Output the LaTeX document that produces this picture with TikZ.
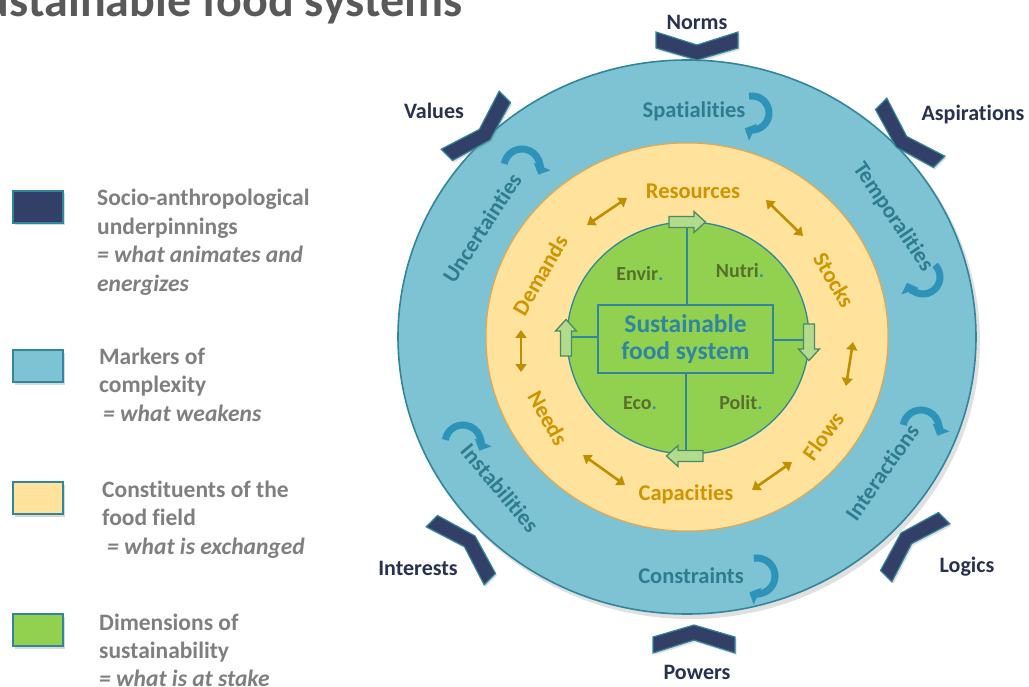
\documentclass[tikz,border=0pt]{standalone}
\usepackage{fontspec}
\setmainfont{Carlito}[Ligatures=NoCommon]
\usetikzlibrary{arrows.meta,shadows,shapes.geometric}
\definecolor{navy}{HTML}{323F66}
\definecolor{tealb}{HTML}{31859C}
\definecolor{ringblue}{HTML}{7EC3D3}
\definecolor{ringyel}{HTML}{FFE29C}
\definecolor{yelborder}{HTML}{F2A33A}
\definecolor{ringgrn}{HTML}{92D050}
\definecolor{gold}{HTML}{BF8F00}
\definecolor{goldtxt}{HTML}{CF9500}
\definecolor{olive}{HTML}{56702C}
\definecolor{legtxt}{HTML}{7F7F7F}
\definecolor{titletxt}{HTML}{595959}
\definecolor{arrowblue}{HTML}{2E93B8}
\definecolor{lblue}{HTML}{2F7C91}
\definecolor{lgreen}{HTML}{B3DB8C}
\definecolor{dgreen}{HTML}{4B8A66}
\definecolor{labtxt}{HTML}{283150}
\definecolor{boxtxt}{HTML}{2F86A0}
\tikzset{
  chev/.pic={\path[fill=navy, draw=tealb, line width=1.2, line join=miter, drop shadow={opacity=0.25,shadow xshift=1.5pt,shadow yshift=-2pt}] (0,0) -- (41,12) -- (41,28) -- (0,15) -- (-41,28) -- (-41,12) -- cycle;},
  garr/.pic={\path[fill=lgreen, draw=dgreen, line width=1.3, line join=miter] (-18,-5.5) -- (7,-5.5) -- (7,-10.5) -- (18.5,0) -- (7,10.5) -- (7,5.5) -- (-18,5.5) -- cycle;}
}
\begin{document}
\begin{tikzpicture}[x=1pt,y=1pt,
  every node/.style={inner sep=0pt},
  chevlbl/.style={font=\fontsize{22}{24}\selectfont\bfseries, text=labtxt},
  ringlbl/.style={font=\fontsize{22.5}{24}\selectfont\bfseries, text=lblue},
  yellbl/.style={font=\fontsize{22.5}{24}\selectfont\bfseries, text=goldtxt},
  grnlbl/.style={font=\fontsize{20}{22}\selectfont\bfseries, text=olive},
  legtext/.style={font=\fontsize{23.5}{28}\selectfont\bfseries, text=legtxt, anchor=base west},
  legit/.style={legtext, font=\fontsize{23.5}{28}\selectfont\bfseries\itshape},
  legbox/.style={draw=tealb, line width=1.5, minimum width=50, minimum height=32, drop shadow={opacity=0.3,shadow xshift=1.5pt,shadow yshift=-2.5pt}},
  dbl/.style={gold, line width=2.6, {Triangle[length=8,width=11]}-{Triangle[length=8,width=11]}},
  carrow/.style={arrowblue, line width=7, -{Triangle[length=9,width=18]}},
  ring/.style={ellipse, inner sep=0pt},
]
\useasboundingbox (0,0) rectangle (1029,-687);
\clip (0,0) rectangle (1029,-687);
\fill[white] (0,0) rectangle (1029,-687);

% title
\node[anchor=base west, font=\fontsize{48}{50}\selectfont\bfseries, text=titletxt] (title) at (-39,-16.5) {Sustainable food systems};

% legend
\node[legbox, fill=navy] (lb1) at (38,-207) {};
\node[legbox, fill=ringblue] (lb2) at (38,-366) {};
\node[legbox, fill=ringyel] (lb3) at (38,-498) {};
\node[legbox, fill=ringgrn] (lb4) at (38,-630) {};
\node[legtext] (t11) at (97,-206) {Socio-anthropological};
\node[legtext] (t12) at (97,-234.5) {underpinnings};
\node[legit] (t13) at (97,-263) {= what animates and};
\node[legit] (t14) at (97,-291.5) {energizes};
\node[legtext] (t21) at (99,-364) {Markers of};
\node[legtext] (t22) at (99,-392.5) {complexity};
\node[legit] (t23) at (103,-421) {= what weakens};
\node[legtext] (t31) at (102,-497) {Constituents of the};
\node[legtext] (t32) at (102,-525.5) {food field};
\node[legit] (t33) at (107,-554) {= what is exchanged};
\node[legtext] (t41) at (99,-630) {Dimensions of};
\node[legtext] (t42) at (99,-658.5) {sustainability};
\node[legit] (t43) at (99,-686.5) {= what is at stake};

% rings
\fill[black, opacity=0.12] (690,-341) ellipse [x radius=290, y radius=278];
\node[ring, draw=tealb, line width=1.6, fill=ringblue, minimum width=578, minimum height=554] (outer) at (687,-337) {};
\node[ring, draw=yelborder, line width=1, fill=ringyel, minimum width=402, minimum height=388] (middle) at (687,-337) {};
\node[ring, draw=tealb, line width=1.3, fill=ringgrn, minimum width=242, minimum height=232] (inner) at (688,-338) {};

% center box and cross
\node[draw=tealb, line width=2, fill=ringgrn, minimum width=175, minimum height=68, align=center, text=boxtxt, font=\fontsize{25.5}{27}\selectfont\bfseries] (box) at (685.5,-339) {Sustainable\\food system};
\coordinate (ct) at (687,-228);
\coordinate (cb) at (686,-451);
\coordinate (cl) at (571,-337);
\coordinate (cr) at (804,-340);
\draw[tealb, line width=2] (box.north -| ct) -- (ct);
\draw[tealb, line width=2] (box.south -| cb) -- (cb);
\draw[tealb, line width=2] (box.west |- cl) -- (cl);
\draw[tealb, line width=2] (box.east |- cr) -- (cr);
\pic at (687,-222) {garr};
\pic[rotate=180] at (685,-456) {garr};
\pic[rotate=90] at (566,-338) {garr};
\pic[rotate=-90] at (809,-342) {garr};

% green labels
\node[grnlbl] (envir) at (640,-274) {Envir\textcolor{arrowblue}{.}};
\node[grnlbl] (nutri) at (740,-271) {Nutri\textcolor{arrowblue}{.}};
\node[grnlbl] (eco) at (640,-403) {Eco\textcolor{arrowblue}{.}};
\node[grnlbl] (polit) at (741,-403) {Polit\textcolor{arrowblue}{.}};

% yellow labels
\node[yellbl] (res) at (693,-191) {Resources};
\node[yellbl] (cap) at (686,-494) {Capacities};
\node[yellbl, rotate=60] (dem) at (540,-275) {Demands};
\node[yellbl, rotate=-60] (sto) at (834,-280) {Stocks};
\node[yellbl, rotate=-61] (nee) at (548,-418) {Needs};
\node[yellbl, rotate=54] (flo) at (823,-436) {Flows};

% gold double arrows
\coordinate (g1a) at (587,-225); \coordinate (g1b) at (627,-198);
\coordinate (g2a) at (766,-200); \coordinate (g2b) at (803,-236);
\coordinate (g3a) at (521,-330); \coordinate (g3b) at (521,-372);
\coordinate (g4a) at (853,-342); \coordinate (g4b) at (846,-386);
\coordinate (g5a) at (583,-455); \coordinate (g5b) at (625,-485);
\coordinate (g6a) at (752,-490); \coordinate (g6b) at (792,-462);
\draw[dbl] (g1a) -- (g1b);
\draw[dbl] (g2a) -- (g2b);
\draw[dbl] (g3a) -- (g3b);
\draw[dbl] (g4a) -- (g4b);
\draw[dbl] (g5a) -- (g5b);
\draw[dbl] (g6a) -- (g6b);

% outer ring labels
\node[ringlbl] (spa) at (694,-111) {Spatialities};
\node[ringlbl] (con) at (691,-576) {Constraints};
\node[ringlbl, rotate=57] (unc) at (482,-228) {Uncertainties};
\node[ringlbl, rotate=-56] (tem) at (893,-217) {Temporalities};
\node[ringlbl, rotate=-50] (ins) at (500,-488) {Instabilities};
\node[ringlbl, rotate=55] (int) at (882,-472) {Interactions};

% curved arrows
\draw[carrow] ([shift={(100:17)}]752,-113) arc[start angle=100, end angle=-115, radius=17];
\draw[carrow] ([shift={(100:18)}]757,-576) arc[start angle=100, end angle=-115, radius=18];
\draw[carrow] ([shift={(170:18)}]522,-167) arc[start angle=170, end angle=-25, radius=18];
\draw[carrow] ([shift={(170:18)}]921,-428) arc[start angle=170, end angle=-25, radius=18];
\draw[carrow] ([shift={(170:18)}]463,-443) arc[start angle=170, end angle=-25, radius=18];
\draw[carrow] ([shift={(45:17)}]923,-277) arc[start angle=45, end angle=-160, radius=17];

% chevrons
\pic at (697,-60) {chev};
\pic[rotate=180] at (694,-625) {chev};
\pic[rotate=45] at (490,-140) {chev};
\pic[rotate=-45] at (896,-147) {chev};
\pic[rotate=135] at (475,-536) {chev};
\pic[rotate=225] at (901,-533) {chev};

% chevron labels
\node[chevlbl] (norms) at (697,-22) {Norms};
\node[chevlbl] (values) at (434,-111) {Values};
\node[chevlbl] (asp) at (973,-115) {Aspirations};
\node[chevlbl] (inte) at (418,-568) {Interests};
\node[chevlbl] (log) at (967,-567) {Logics};
\node[chevlbl] (pow) at (697,-672) {Powers};
\end{tikzpicture}
\end{document}
